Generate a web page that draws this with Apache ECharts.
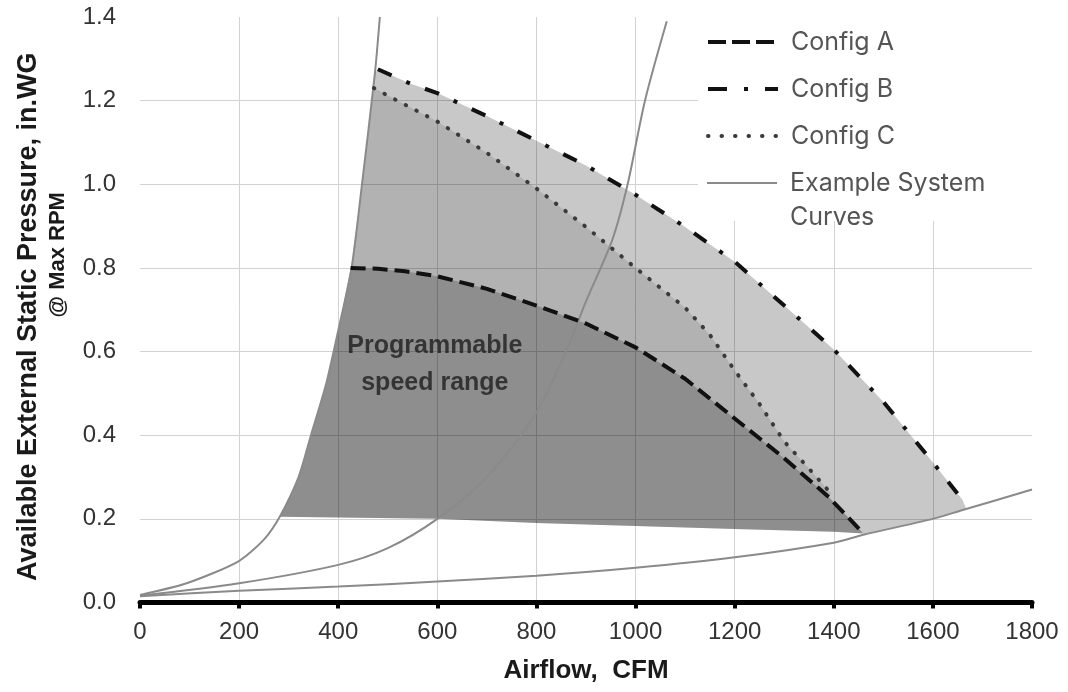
<!DOCTYPE html>
<html>
<head>
<meta charset="utf-8">
<script src="https://cdn.jsdelivr.net/npm/echarts@6/dist/echarts.min.js"></script>
<style>html,body{margin:0;padding:0;background:#fff}#c{width:1068px;height:692px}</style>
</head>
<body>
<div id="c"></div>
<script>
// ---- data ----
// Example system curves
const sys1X = [0, 94, 198, 249, 282, 320, 345, 375, 400, 427, 447, 474, 484];
const sys1Y = [0.018, 0.046, 0.098, 0.149, 0.205, 0.30, 0.40, 0.52, 0.65, 0.80, 0.99, 1.265, 1.40];
const sys2X = [0, 200, 400, 500, 600, 700, 800, 864, 900, 953, 984, 1019, 1063];
const sys2Y = [0.016, 0.046, 0.09, 0.13, 0.2, 0.3, 0.455, 0.613, 0.72, 0.867, 1.0, 1.2, 1.39];
const sys3X = [0, 200, 400, 600, 800, 1000, 1200, 1400, 1460, 1600, 1660, 1800];
const sys3Y = [0.015, 0.028, 0.038, 0.05, 0.064, 0.083, 0.108, 0.143, 0.162, 0.2, 0.221, 0.27];
// Config curves
const aX = [425, 480, 535, 600, 700, 800, 900, 1000, 1100, 1200, 1300, 1390, 1460];
const aY = [0.80, 0.798, 0.792, 0.78, 0.75, 0.71, 0.667, 0.61, 0.535, 0.44, 0.345, 0.252, 0.165];
const bX = [480, 545, 600, 700, 800, 900, 1000, 1100, 1200, 1300, 1400, 1500, 1600, 1660];
const bY = [1.275, 1.241, 1.218, 1.163, 1.104, 1.045, 0.975, 0.898, 0.815, 0.71, 0.605, 0.48, 0.335, 0.245];
const cX = [472, 500, 600, 700, 800, 900, 1000, 1100, 1150, 1200, 1250, 1300, 1350, 1395];
const cY = [1.23, 1.212, 1.15, 1.075, 0.99, 0.898, 0.8, 0.705, 0.64, 0.555, 0.475, 0.385, 0.32, 0.26];
// lower edge of the programmable range
const floorX = [282, 600, 800, 1000, 1200, 1400, 1460];
const floorY = [0.205, 0.2, 0.19, 0.183, 0.176, 0.169, 0.165];
// corner where the light region meets the lowest system curve
const lightCornerX = [1668];
const lightCornerY = [0.222];
// annotation
const noteText = 'Programmable\nspeed range';
const noteAt = [595, 0.57];

// ---- build ----
const zip = (xs, ys) => xs.map((x, i) => [x, ys[i]]);
const sys1 = zip(sys1X, sys1Y), sys2 = zip(sys2X, sys2Y), sys3 = zip(sys3X, sys3Y);
const A = zip(aX, aY), B = zip(bX, bY), C = zip(cX, cY), floor = zip(floorX, floorY);

const sys1Left = sys1.filter(p => p[0] > 282 && p[0] < 480);
const lightPoly = [].concat(
  B,
  zip(lightCornerX, lightCornerY),
  sys3.filter(p => p[0] >= 1460 && p[0] <= 1660).reverse(),
  floor.slice().reverse(),
  sys1Left
);
const mediumPoly = [].concat(
  C,
  A.filter(p => p[0] <= 1390).reverse(),
  sys1.filter(p => p[0] > 427 && p[0] < 472)
);
const darkPoly = [].concat(
  A,
  floor.slice(0, -1).reverse(),
  sys1.filter(p => p[0] > 282 && p[0] < 425)
);

function poly(points, fill) {
  return {
    type: 'custom', coordinateSystem: 'cartesian2d', silent: true, z: 1,
    data: [points[0]],
    renderItem: (params, api) => ({
      type: 'polygon',
      shape: { points: points.map(p => api.coord(p)) },
      style: { fill: fill }
    })
  };
}

const sysLine = (d, s) => ({
  type: 'line', name: 'Example System Curves', data: d, symbol: 'none',
  smooth: s, silent: true, z: 3,
  lineStyle: { color: '#8a8a8a', width: 2 }, itemStyle: { color: '#8a8a8a' }
});

const chart = echarts.init(document.getElementById('c'), null, { renderer: 'canvas' });
const legendText = { fontFamily: 'Inter', fontSize: 25, color: '#555', lineHeight: 34, padding: [0, 0, 0, 8] };
const hiddenSymbol = { color: 'rgba(0,0,0,0)', borderWidth: 0, opacity: 0 };
const titleFont = { fontFamily: 'Liberation Sans', fontWeight: 'bold', color: '#1a1a1a' };

chart.setOption({
  animation: false,
  backgroundColor: '#fff',
  grid: { left: 140, right: 36, top: 17, bottom: 89.5 },
  xAxis: {
    type: 'value', min: 0, max: 1800, interval: 200,
    name: 'Airflow,  CFM', nameLocation: 'middle', nameGap: 55,
    nameTextStyle: Object.assign({ fontSize: 26 }, titleFont),
    axisLine: { show: true, lineStyle: { color: '#000', width: 5 } },
    axisTick: { show: true, length: 6, lineStyle: { color: '#000', width: 4 } },
    axisLabel: { fontFamily: 'Liberation Sans', fontSize: 24, color: '#333', margin: 18, formatter: v => String(v) },
    splitLine: { show: true, showMinLine: false, showMaxLine: false, lineStyle: { color: '#d2d2d2', width: 1 } }
  },
  yAxis: {
    type: 'value', min: 0, max: 1.4, interval: 0.2,
    name: '{a|Available External Static Pressure, in.WG}\n{b|@ Max RPM}',
    nameLocation: 'middle', nameRotate: 90, nameGap: 68,
    nameTextStyle: Object.assign({
      fontSize: 27, lineHeight: 31,
      rich: {
        a: Object.assign({ fontSize: 27, lineHeight: 31, padding: [0, 14, 0, 0] }, titleFont),
        b: Object.assign({ fontSize: 22, lineHeight: 28, padding: [0, 0, 0, 110] }, titleFont)
      }
    }, titleFont),
    axisLine: { show: false }, axisTick: { show: false },
    axisLabel: { fontFamily: 'Liberation Sans', fontSize: 24, color: '#333', margin: 24, formatter: v => v.toFixed(1) },
    splitLine: { show: true, showMinLine: false, showMaxLine: false, lineStyle: { color: '#d2d2d2', width: 1 } }
  },
  legend: [
    {
      orient: 'vertical', left: 698, top: 17, padding: [8, 150, 68, 8], backgroundColor: '#fff',
      itemWidth: 70, itemHeight: 2, itemGap: 13, selectedMode: false, textStyle: legendText,
      itemStyle: hiddenSymbol,
      data: [
        { name: 'Config A', lineStyle: { type: [18, 6], width: 4 } },
        { name: 'Config B', lineStyle: { type: [19, 17, 4, 17], width: 4 } },
        { name: 'Config C', lineStyle: { type: [0.5, 13], width: 4, cap: 'round' } }
      ]
    },
    {
      orient: 'vertical', left: 706, top: 132, padding: 0,
      itemWidth: 70, itemHeight: 2, selectedMode: false,
      textStyle: legendText, itemStyle: hiddenSymbol,
      formatter: () => '\u00a0\nExample System\nCurves',
      data: [{ name: 'Example System Curves', lineStyle: { width: 2 } }]
    }
  ],
  series: [
    poly(lightPoly, 'rgba(0,0,0,0.216)'),
    poly(mediumPoly, 'rgba(0,0,0,0.105)'),
    poly(darkPoly, 'rgba(0,0,0,0.29)'),
    sysLine(sys1, 0.25), sysLine(sys2, 0.3), sysLine(sys3, 0.3),
    { type: 'line', name: 'Config A', data: A, symbol: 'none', z: 4, silent: true,
      lineStyle: { color: '#111', width: 4, type: [15, 7] }, itemStyle: { color: '#111' } },
    { type: 'line', name: 'Config B', data: B, symbol: 'none', z: 4, silent: true,
      lineStyle: { color: '#111', width: 4, type: [15, 16, 4, 16] }, itemStyle: { color: '#111' } },
    { type: 'line', name: 'Config C', data: C, symbol: 'none', z: 4, silent: true,
      lineStyle: { color: '#3a3a3a', width: 4, type: [0.5, 11.5], cap: 'round' }, itemStyle: { color: '#3a3a3a' } },
    { type: 'scatter', data: [noteAt], symbolSize: 0, silent: true, z: 5,
      label: { show: true, position: 'inside', formatter: noteText, fontFamily: 'Liberation Sans',
        fontWeight: 'bold', fontSize: 25, lineHeight: 37, color: '#1e1e1e' } }
  ]
});
</script>
</body>
</html>
